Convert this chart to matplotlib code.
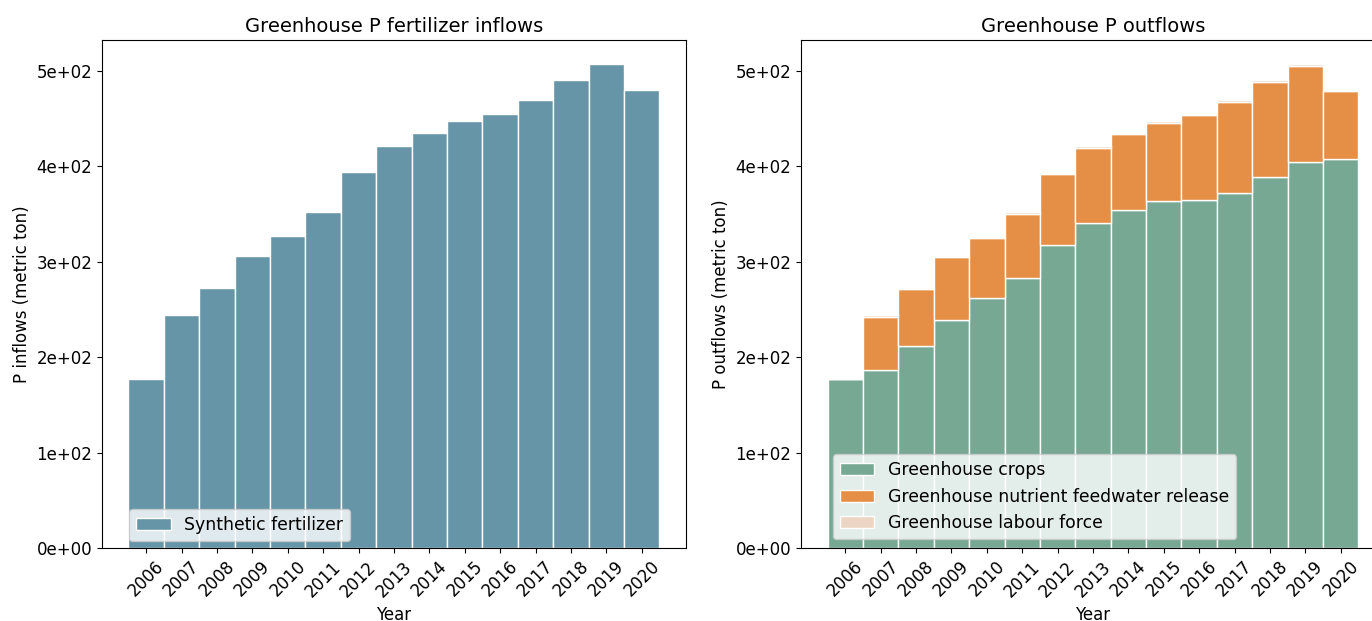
import numpy as np
import matplotlib
matplotlib.use("Agg")
import matplotlib.pyplot as plt
from matplotlib.ticker import StrMethodFormatter

# Years and values (metric ton P)
years = ['2006', '2007', '2008', '2009', '2010', '2011', '2012', '2013',
         '2014', '2015', '2016', '2017', '2018', '2019', '2020']
synthetic_fertilizer = [177, 244, 272.5, 306.5, 326.5, 352, 393.5, 421,
                        435, 447, 455, 469, 490, 507, 480]

gh_crops = [177, 186, 211.5, 239, 262, 283, 318, 341,
            354.5, 363.5, 364.5, 372, 389, 404, 408]
gh_feedwater = [0, 56.5, 59.5, 65.5, 62.5, 67.5, 73.5, 78.5,
                79, 82, 89, 95.5, 99.5, 101.5, 70.5]
gh_labour = [0, 1.5, 1.5, 1.5, 1.5, 1.5, 1.5, 1.5,
             1.5, 1.5, 1.5, 1.5, 1.5, 1.5, 1.5]

c_fert = '#6795a8'
c_crops = '#76a893'
c_feed = '#e58e45'
c_labour = '#ecd5c3'

plt.rcParams['font.size'] = 12

fig = plt.figure(figsize=(13.72, 6.21), dpi=100)
ax1 = fig.add_axes([0.0743, 0.1176, 0.4257, 0.818])
ax2 = fig.add_axes([0.5838, 0.1176, 0.4257, 0.818])

x = np.arange(len(years))

# Inflows
ax1.bar(x, synthetic_fertilizer, width=1, color=c_fert, edgecolor='white',
        linewidth=1, label='Synthetic fertilizer')
ax1.set_title('Greenhouse P fertilizer inflows', fontsize=14)
ax1.set_ylabel('P inflows (metric ton)')
ax1.set_xlabel('Year')
ax1.legend(loc='lower left', bbox_to_anchor=(0.035, 0.0), fontsize=12.4,
           borderaxespad=0.4)

# Outflows (stacked)
bottom = np.zeros(len(years))
for vals, col, lab in [(gh_crops, c_crops, 'Greenhouse crops'),
                       (gh_feedwater, c_feed, 'Greenhouse nutrient feedwater release'),
                       (gh_labour, c_labour, 'Greenhouse labour force')]:
    ax2.bar(x, vals, bottom=bottom, width=1, color=col, edgecolor='white',
            linewidth=1, label=lab)
    bottom += np.array(vals)
ax2.set_title('Greenhouse P outflows', fontsize=14)
ax2.set_ylabel('P outflows (metric ton)')
ax2.set_xlabel('Year')
ax2.legend(loc='lower left', bbox_to_anchor=(0.04, 0.0), fontsize=12.4)

for ax in (ax1, ax2):
    ax.set_xticks(x)
    ax.set_xticklabels(years, rotation=45)
    ax.yaxis.set_major_formatter(StrMethodFormatter('{x:.0e}'))

fig.savefig('out.png', dpi=100)
